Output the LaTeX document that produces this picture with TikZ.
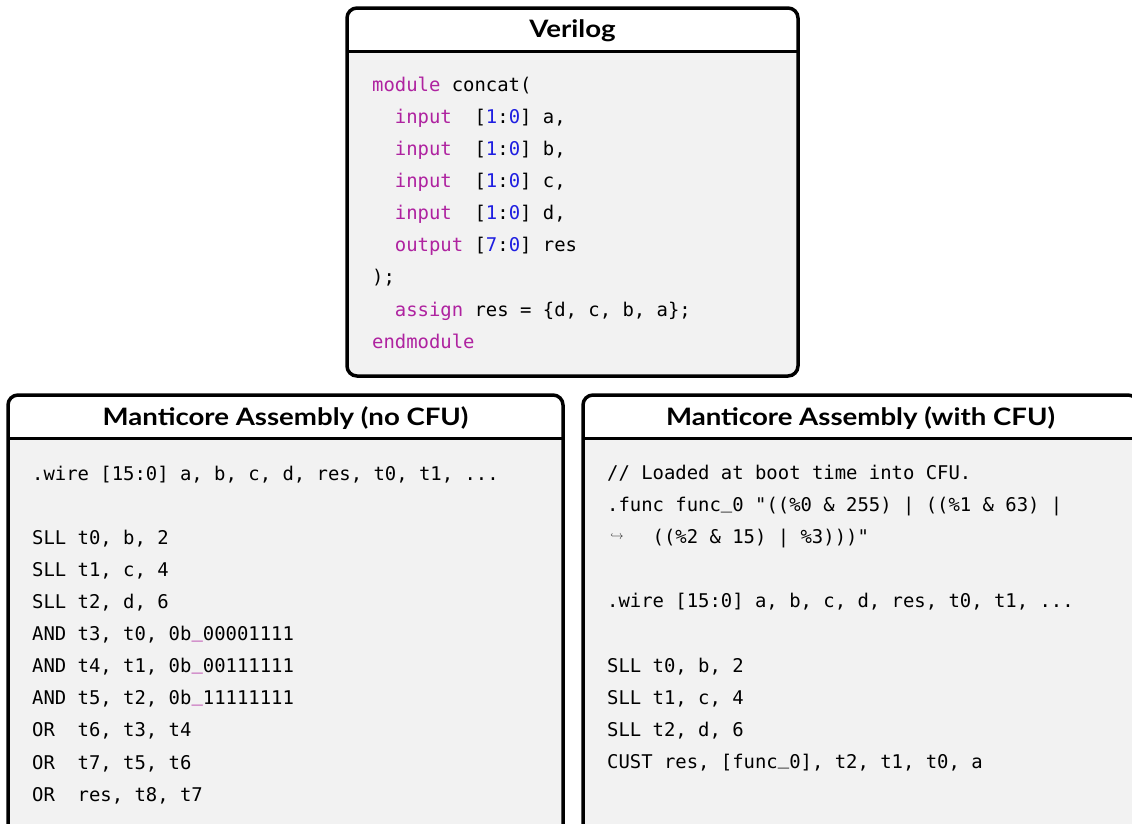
\documentclass[tikz,border=0pt]{standalone}
\usepackage{fontspec}
\setmainfont{Lato}
\newfontfamily\titlefont{Lato}[FakeStretch=1.15]
\newfontfamily\codefont{DejaVu Sans Mono}
\definecolor{kwc}{RGB}{175,35,160}
\definecolor{numc}{RGB}{30,30,225}
\definecolor{codebg}{RGB}{242,242,242}
\newcommand\kw[1]{\textcolor{kwc}{#1}}
\newcommand\nm[1]{\textcolor{numc}{#1}}
\newcommand\us{\raisebox{3.5pt}{\_}}
\tikzset{
  code/.style={anchor=base west, inner sep=0pt, text=black,
    font=\codefont\fontsize{18.9}{22}\selectfont},
  boxtitle/.style={anchor=base, inner sep=0pt, text=black,
    font=\titlefont\bfseries\fontsize{24}{27}\selectfont},
  frame/.style={line width=3.5pt, rounded corners=10pt},
  sep/.style={line width=3pt},
}
% panel: #1,#2 = top-left, #3,#4 = bottom-right, #5 = bottom of the title band
\newcommand\panel[5]{%
  \fill[codebg, rounded corners=10pt] (#1,#2) rectangle (#3,#4);
  \begin{scope}
    \clip (#1,#2) rectangle (#3,#5);
    \fill[white, rounded corners=10pt] (#1,#2) rectangle (#3,#4);
  \end{scope}
  \draw[sep] (#1,#5) -- (#3,#5);
  \draw[frame] (#1,#2) rectangle (#3,#4);
}
\begin{document}
\begin{tikzpicture}[x=1pt,y=-1pt]
\useasboundingbox (0,0) rectangle (1132,823);
\clip (0,0) rectangle (1132,823);

% ---------- Verilog ----------
\panel{347}{8}{798}{376}{51}
\node[boxtitle] (vtitle) at (572.5,37.5) {Verilog};
\def\vx{372}
\node[code] (v0) at (\vx,91.3)  {\kw{module} concat(};
\node[code] (v1) at (\vx,123.4) {~~\kw{input}~~[\nm{1}:\nm{0}] a,};
\node[code] (v2) at (\vx,155.5) {~~\kw{input}~~[\nm{1}:\nm{0}] b,};
\node[code] (v3) at (\vx,187.6) {~~\kw{input}~~[\nm{1}:\nm{0}] c,};
\node[code] (v4) at (\vx,219.7) {~~\kw{input}~~[\nm{1}:\nm{0}] d,};
\node[code] (v5) at (\vx,251.8) {~~\kw{output}~[\nm{7}:\nm{0}] res};
\node[code] (v6) at (\vx,283.9) {);};
\node[code] (v7) at (\vx,316.0) {~~\kw{assign} res = \{d, c, b, a\};};
\node[code] (v8) at (\vx,348.1) {\kw{endmodule}};

% ---------- Manticore, no CFU ----------
\panel{8}{395}{563}{860}{438}
\node[boxtitle] (ltitle) at (285.5,425) {Manticore Assembly (no CFU)};
\def\lx{32}
\node[code] (l0)  at (\lx,480.5) {.wire [15:0] a, b, c, d, res, t0, t1, ...};
\node[code] (l2)  at (\lx,544.6) {SLL t0, b, 2};
\node[code] (l3)  at (\lx,576.7) {SLL t1, c, 4};
\node[code] (l4)  at (\lx,608.7) {SLL t2, d, 6};
\node[code] (l5)  at (\lx,640.8) {AND t3, t0, 0b\kw{\us}00001111};
\node[code] (l6)  at (\lx,672.8) {AND t4, t1, 0b\kw{\us}00111111};
\node[code] (l7)  at (\lx,704.9) {AND t5, t2, 0b\kw{\us}11111111};
\node[code] (l8)  at (\lx,736.9) {OR~~t6, t3, t4};
\node[code] (l9)  at (\lx,769.0) {OR~~t7, t5, t6};
\node[code] (l10) at (\lx,801.0) {OR~~res, t8, t7};

% ---------- Manticore, with CFU ----------
\panel{583}{395}{1138}{860}{438}
\node[boxtitle] (rtitle) at (860.5,425) {Manticore Assembly (with CFU)};
\def\rx{607}
\node[code] (r0) at (\rx,479.5) {// Loaded at boot time into CFU.};
\node[code] (r1) at (\rx,511.6) {.func func\us0 "((\%0 \& 255) | ((\%1 \& 63) |};
\node[inner sep=0pt, text=black!85, font=\fontsize{12}{12}\selectfont]
  (rhook) at (617,536.5) {$\hookrightarrow$};
\node[code] (r2) at (\rx+45.5,543.7) {((\%2 \& 15) | \%3)))"};
\node[code] (r4) at (\rx,607.9) {.wire [15:0] a, b, c, d, res, t0, t1, ...};
\node[code] (r6) at (\rx,672.1) {SLL t0, b, 2};
\node[code] (r7) at (\rx,704.2) {SLL t1, c, 4};
\node[code] (r8) at (\rx,736.3) {SLL t2, d, 6};
\node[code] (r9) at (\rx,768.4) {CUST res, [func\us0], t2, t1, t0, a};
\end{tikzpicture}
\end{document}
